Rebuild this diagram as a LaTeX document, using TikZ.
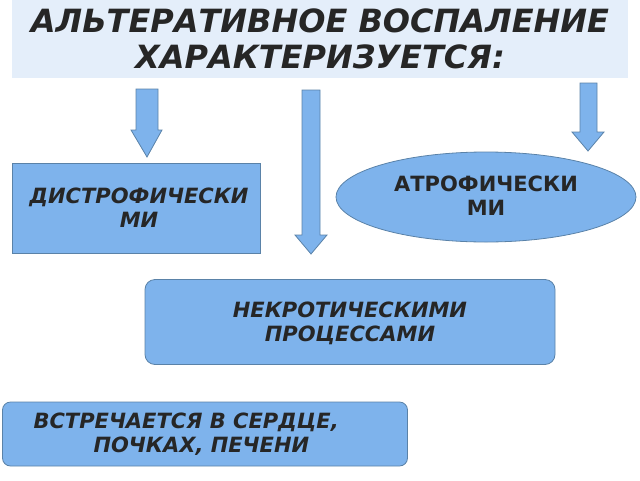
\documentclass[tikz,border=0pt]{standalone}
\usepackage{fontspec}
\setmainfont{DejaVu Sans}
\usetikzlibrary{shapes.geometric}
\definecolor{boxfill}{HTML}{7EB3EC}
\definecolor{boxline}{HTML}{5A82A8}
\definecolor{titlefill}{HTML}{E4EEFA}
\definecolor{txt}{HTML}{262626}
\tikzset{
  blk/.style={fill=boxfill,draw=boxline,line width=0.8pt},
  lbl/.style={font=\bfseries\itshape\fontsize{21}{24}\selectfont,text=txt,align=center},
  darrow/.style={fill=boxfill,draw=boxline,line width=0.8pt}
}
\begin{document}
\begin{tikzpicture}[x=1pt,y=-1pt]
\useasboundingbox (0,0) rectangle (640,480);
\node[fill=titlefill,minimum width=616pt,minimum height=78pt,inner sep=0pt,align=center,text=txt,font=\bfseries\itshape\fontsize{32}{36}\selectfont] (title) at (320,39) {АЛЬТЕРАТИВНОЕ ВОСПАЛЕНИЕ\\ХАРАКТЕРИЗУЕТСЯ:};
% down arrows
\draw[darrow] (136,89) -- (158,89) -- (158,130) -- (162,130) -- (147,157) -- (131,130) -- (136,130) -- cycle;
\draw[darrow] (302,90) -- (320,90) -- (320,235) -- (327,235) -- (311,254) -- (295,235) -- (302,235) -- cycle;
\draw[darrow] (580,83) -- (597,83) -- (597,132) -- (604,132) -- (588,151) -- (572,132) -- (580,132) -- cycle;
\node[blk,minimum width=248pt,minimum height=90pt,inner sep=0pt] (dys) at (136,208) {};
\node[lbl] at (139,208) {ДИСТРОФИЧЕСКИ\\МИ};
\node[blk,ellipse,minimum width=300pt,minimum height=90pt,inner sep=0pt] (atr) at (486,197) {};
\node[lbl,font=\bfseries\fontsize{21}{24}\selectfont] at (486,196) {АТРОФИЧЕСКИ\\МИ};
\node[blk,rounded corners=10pt,minimum width=410pt,minimum height=85pt,inner sep=0pt] (nec) at (350,322) {};
\node[lbl] at (350,323) {НЕКРОТИЧЕСКИМИ\\ПРОЦЕССАМИ};
\node[blk,rounded corners=8pt,minimum width=405pt,minimum height=64pt,inner sep=0pt] (occ) at (205,434) {};
\node[lbl,align=left,anchor=west] at (30,434) {ВСТРЕЧАЕТСЯ В СЕРДЦЕ,\\\hspace*{60pt}ПОЧКАХ, ПЕЧЕНИ};
\end{tikzpicture}
\end{document}
